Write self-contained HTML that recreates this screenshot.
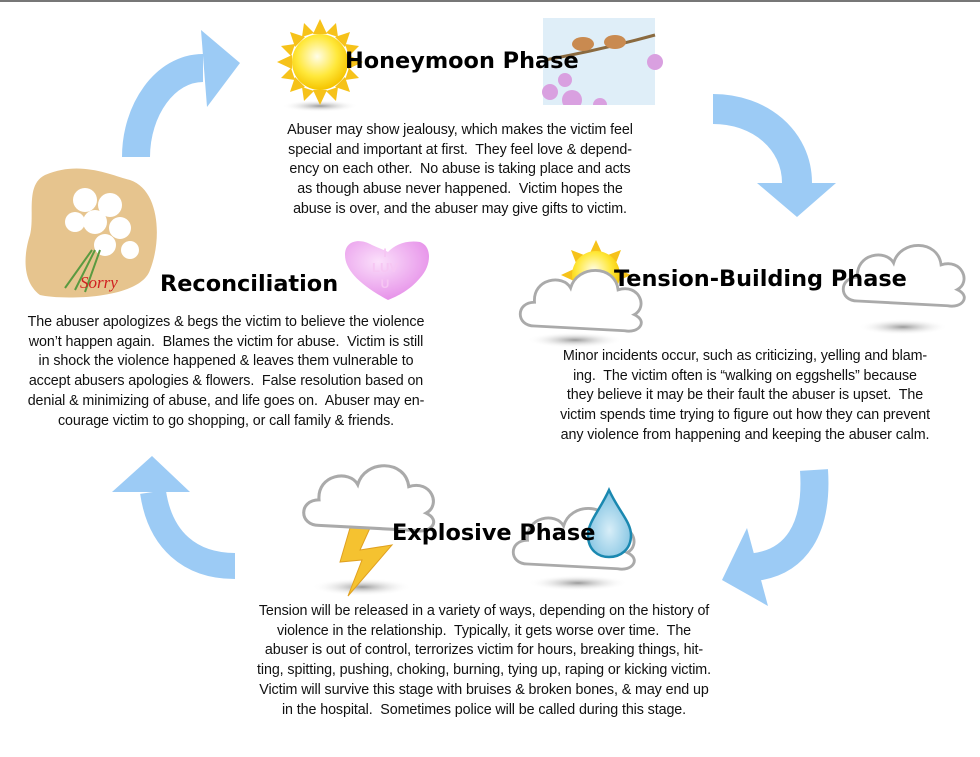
<!DOCTYPE html>
<html><head><meta charset="utf-8"><style>
html,body{margin:0;padding:0;background:#fff}
#c{position:relative;width:980px;height:757px;overflow:hidden;border-top:2px solid #777;box-sizing:border-box}
.t{position:absolute;font-family:"DejaVu Sans",sans-serif;font-weight:bold;font-size:22.4px;color:#000;white-space:nowrap}
.p{position:absolute;font-family:"Liberation Sans",sans-serif;font-size:14.3px;line-height:19.7px;color:#111;text-align:center;white-space:nowrap;letter-spacing:-0.1px}
svg{position:absolute;left:0;top:0}
</style></head><body><div id="c">
<svg width="980" height="757" viewBox="0 2 980 757">
<defs>
<radialGradient id="sun" cx="45%" cy="40%" r="60%"><stop offset="0" stop-color="#fffde8"/><stop offset="0.6" stop-color="#ffe83a"/><stop offset="1" stop-color="#f5c400"/></radialGradient>
<radialGradient id="sh" cx="50%" cy="50%" r="50%"><stop offset="0" stop-color="#999"/><stop offset="1" stop-color="#fff" stop-opacity="0"/></radialGradient>
<radialGradient id="hr" cx="40%" cy="35%" r="70%"><stop offset="0" stop-color="#fbe0fb"/><stop offset="1" stop-color="#e58de8"/></radialGradient>
<radialGradient id="dr" cx="50%" cy="60%" r="60%"><stop offset="0" stop-color="#d8eef8"/><stop offset="1" stop-color="#7cc0e0"/></radialGradient>
<g id="cloud"><path d="M-50,20 C-70,20 -70,-5 -50,-5 C-52,-30 -20,-35 -12,-20 C-5,-45 35,-45 38,-18 C60,-25 70,0 55,8 C70,15 60,28 45,25 Z" fill="#fff" stroke="#aaa" stroke-width="3"/></g>
</defs>
<g fill="#9ccbf5" stroke="none">
<path d="M136,157 C136,110 165,68 203,68" fill="none" stroke="#9ccbf5" stroke-width="28"/>
<polygon points="201,30 240,63 207,107"/>
<path d="M713,109 C760,109 797,140 797,183" fill="none" stroke="#9ccbf5" stroke-width="30"/>
<polygon points="757,183 836,183 797,217"/>
<path d="M814,470 C818,530 795,562 755,567" fill="none" stroke="#9ccbf5" stroke-width="28"/>
<polygon points="747,528 768,606 722,580"/>
<path d="M235,566 C190,566 160,540 153,492" fill="none" stroke="#9ccbf5" stroke-width="26"/>
<polygon points="112,492 190,492 152,456"/>
</g>
<ellipse cx="320" cy="106" rx="38" ry="6" fill="url(#sh)"/>
<g transform="translate(320,62)" fill="#f6c21a">
<polygon points="0,-43 7,-28 -7,-28"/><polygon points="0,43 7,28 -7,28"/><polygon points="-43,0 -28,7 -28,-7"/><polygon points="43,0 28,7 28,-7"/>
<polygon points="30,-30 25,-15 15,-25"/><polygon points="-30,-30 -25,-15 -15,-25"/><polygon points="30,30 25,15 15,25"/><polygon points="-30,30 -25,15 -15,25"/>
<polygon points="16,-39 18,-25 6,-29"/><polygon points="-16,-39 -18,-25 -6,-29"/><polygon points="39,16 25,18 29,6"/><polygon points="39,-16 25,-18 29,-6"/>
<polygon points="-39,16 -25,18 -29,6"/><polygon points="-39,-16 -25,-18 -29,-6"/><polygon points="16,39 18,25 6,29"/><polygon points="-16,39 -18,25 -6,29"/>
<circle r="28" fill="url(#sun)"/></g>
<rect x="543" y="18" width="112" height="96" fill="#dfeef8"/>
<path d="M545,60 Q600,50 655,35" stroke="#8a6a40" stroke-width="3" fill="none"/>
<ellipse cx="583" cy="44" rx="11" ry="7" fill="#c98a50"/><ellipse cx="615" cy="42" rx="11" ry="7" fill="#c98a50"/>
<g fill="#d9a0e0"><circle cx="550" cy="92" r="8"/><circle cx="572" cy="100" r="10"/><circle cx="600" cy="105" r="7"/><circle cx="655" cy="62" r="8"/><circle cx="565" cy="80" r="7"/></g>
<rect x="543" y="105" width="112" height="10" fill="#fff"/>
<path d="M45,175 C80,160 110,175 130,180 C160,190 162,240 150,270 C140,300 60,300 40,295 C20,280 25,250 30,235 C35,215 25,185 45,175 Z" fill="#e6c48e"/>
<g fill="#fff"><circle cx="85" cy="200" r="12"/><circle cx="110" cy="205" r="12"/><circle cx="95" cy="222" r="12"/><circle cx="120" cy="228" r="11"/><circle cx="75" cy="222" r="10"/><circle cx="105" cy="245" r="11"/><circle cx="130" cy="250" r="9"/></g>
<path d="M95,250 L75,290 M100,250 L85,292 M92,250 L65,288" stroke="#5a9a40" stroke-width="2"/>
<text x="80" y="288" font-family="Liberation Serif,serif" font-style="italic" font-size="17" fill="#d02020">Sorry</text>
<path d="M388,300 C360,285 345,270 345,255 C345,240 360,238 372,245 C378,248 385,250 388,252 C395,245 405,240 420,242 C432,246 432,265 420,278 C410,290 398,296 388,300 Z" fill="url(#hr)"/>
<text x="385" y="257" font-family="Liberation Sans,sans-serif" font-weight="bold" font-size="12" fill="#f6c6f3" text-anchor="middle">I</text>
<text x="385" y="272" font-family="Liberation Sans,sans-serif" font-weight="bold" font-size="13" fill="#f6c6f3" text-anchor="middle">LUV</text>
<text x="385" y="288" font-family="Liberation Sans,sans-serif" font-weight="bold" font-size="12" fill="#f6c6f3" text-anchor="middle">U</text>
<ellipse cx="575" cy="340" rx="48" ry="8" fill="url(#sh)"/>
<g transform="translate(596,275)" fill="#f6c21a"><polygon points="0,-35 6,-22 -6,-22"/><polygon points="-35,0 -22,6 -22,-6"/><polygon points="25,-25 20,-12 12,-20"/><polygon points="-25,-25 -20,-12 -12,-20"/><polygon points="35,0 22,6 22,-6"/><polygon points="25,25 20,12 12,20"/><circle r="24" fill="url(#sun)"/></g>
<use href="#cloud" transform="translate(582,307) scale(0.95)"/>
<ellipse cx="903" cy="327" rx="45" ry="8" fill="url(#sh)"/>
<use href="#cloud" transform="translate(905,282) scale(0.95)"/>
<ellipse cx="362" cy="587" rx="50" ry="9" fill="url(#sh)"/>
<polygon points="350,528 370,528 360,550 392,545 348,596 362,560 340,562" fill="#f5c230" stroke="#e0a020" stroke-width="1"/>
<use href="#cloud" transform="translate(370,505) scale(1.02)"/>
<ellipse cx="578" cy="583" rx="50" ry="8" fill="url(#sh)"/>
<use href="#cloud" transform="translate(575,545) scale(0.95)"/>
<path d="M609,490 C600,510 588,522 588,535 C588,550 598,557 609,557 C620,557 631,550 631,535 C631,522 618,510 609,490 Z" fill="url(#dr)" stroke="#1a88b0" stroke-width="2.5"/>
</svg>
<div class="t" style="left:345px;top:46px">Honeymoon Phase</div>
<div class="p" style="left:260px;width:400px;top:119px">Abuser may show jealousy, which makes the victim feel<br>special and important at first.&nbsp; They feel love &amp; depend-<br>ency on each other.&nbsp; No abuse is taking place and acts<br>as though abuse never happened.&nbsp; Victim hopes the<br>abuse is over, and the abuser may give gifts to victim.</div>
<div class="t" style="left:614px;top:264px">Tension-Building Phase</div>
<div class="p" style="left:540px;width:410px;top:345px">Minor incidents occur, such as criticizing, yelling and blam-<br>ing.&nbsp; The victim often is “walking on eggshells” because<br>they believe it may be their fault the abuser is upset.&nbsp; The<br>victim spends time trying to figure out how they can prevent<br>any violence from happening and keeping the abuser calm.</div>
<div class="t" style="left:160px;top:269px">Reconciliation</div>
<div class="p" style="left:6px;width:440px;top:311px">The abuser apologizes &amp; begs the victim to believe the violence<br>won’t happen again.&nbsp; Blames the victim for abuse.&nbsp; Victim is still<br>in shock the violence happened &amp; leaves them vulnerable to<br>accept abusers apologies &amp; flowers.&nbsp; False resolution based on<br>denial &amp; minimizing of abuse, and life goes on.&nbsp; Abuser may en-<br>courage victim to go shopping, or call family &amp; friends.</div>
<div class="t" style="left:392px;top:518px">Explosive Phase</div>
<div class="p" style="left:234px;width:500px;top:600px">Tension will be released in a variety of ways, depending on the history of<br>violence in the relationship.&nbsp; Typically, it gets worse over time.&nbsp; The<br>abuser is out of control, terrorizes victim for hours, breaking things, hit-<br>ting, spitting, pushing, choking, burning, tying up, raping or kicking victim.<br>Victim will survive this stage with bruises &amp; broken bones, &amp; may end up<br>in the hospital.&nbsp; Sometimes police will be called during this stage.</div>
</div></body></html>
